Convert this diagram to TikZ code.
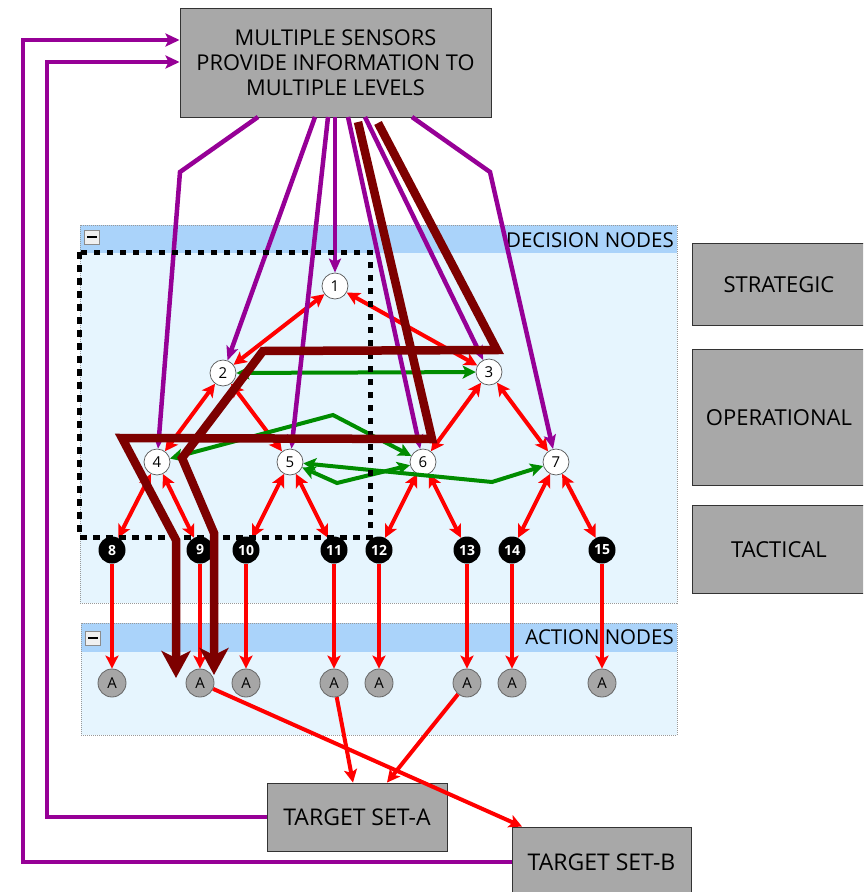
\documentclass[tikz,border=0pt]{standalone}
\usepackage{fontspec}
\setmainfont{Open Sans}
\usetikzlibrary{arrows.meta,calc}

\definecolor{boxgray}{RGB}{168,168,168}
\definecolor{sensorpurple}{RGB}{150,0,150}
\definecolor{pathmaroon}{RGB}{125,0,0}
\definecolor{linkgreen}{RGB}{0,140,0}
\definecolor{hdrblue}{RGB}{170,211,250}
\definecolor{panelblue}{RGB}{230,245,254}
\definecolor{linkred}{RGB}{255,0,0}

\begin{document}
\begin{tikzpicture}[x=1pt,y=-1pt,
  graybox/.style={draw=black!80, line width=0.9pt, fill=boxgray, inner sep=0pt, align=center},
  levelbox/.style={graybox, anchor=north west, minimum width=173pt, font=\fontsize{22}{24}\selectfont},
  targetbox/.style={graybox, font=\fontsize{23}{24}\selectfont},
  dnode/.style={circle, draw=black!65, fill=white, line width=0.7pt, minimum size=26pt, inner sep=0pt, font=\fontsize{15}{15}\selectfont},
  tnode/.style={circle, fill=black, text=white, minimum size=27pt, inner sep=0pt, font=\bfseries\fontsize{14}{14}\selectfont},
  anode/.style={circle, draw=black!60, fill=black!35, line width=0.8pt, minimum size=28pt, inner sep=0pt, font=\fontsize{15}{15}\selectfont},
  redtip/.tip={Stealth[length=13pt,width=13pt,inset=3pt]},
  redone/.style={draw=linkred, line width=4pt, -redtip},
  redtwo/.style={draw=linkred, line width=4pt, redtip-redtip},
  greentip/.tip={Stealth[length=13pt,width=13pt,inset=3pt]},
  greentwo/.style={draw=linkgreen, line width=4pt, line join=miter, greentip-greentip},
  sensorline/.style={draw=sensorpurple, line width=4.5pt, line join=miter, -{Stealth[length=14pt,width=12pt,inset=3pt]}},
  feedline/.style={draw=sensorpurple, line width=4.5pt, line join=miter, -{Stealth[length=14pt,width=13pt,inset=3pt]}},
  pathline/.style={draw=pathmaroon, line width=8.5pt, line join=miter, miter limit=4, -{Stealth[length=27pt,width=29pt,inset=7pt]}},
  panelrim/.style={draw=black!40, line width=0.8pt, dash pattern=on 1pt off 1pt},
  paneltitle/.style={anchor=east, inner sep=0pt, font=\fontsize{20.5}{20.5}\selectfont},
  minusbtn/.style={draw=black!45, fill=black!6, line width=0.7pt, minimum width=15pt, minimum height=14pt, inner sep=0pt},
  groupframe/.style={draw=black, line width=5pt, dash pattern=on 6.5pt off 6.5pt}
]
\clip (0,0) rectangle (863,892);
\fill[white] (0,0) rectangle (863,892);

% ---- decision and action panels
\fill[panelblue] (80,225) rectangle (677,603);
\fill[hdrblue] (80,225) rectangle (677,253);
\draw[panelrim] (80,225) rectangle (677,603);
\node[paneltitle] (dectitle) at (674,240) {DECISION NODES};
\node[minusbtn] (decbtn) at (92,237) {};
\draw[line width=2.2pt] ($(decbtn.center)+(-5,0)$) -- ($(decbtn.center)+(5,0)$);

\fill[panelblue] (81,623) rectangle (677,735);
\fill[hdrblue] (81,623) rectangle (677,652);
\draw[panelrim] (81,623) rectangle (677,735);
\node[paneltitle] (acttitle) at (674,637) {ACTION NODES};
\node[minusbtn] (actbtn) at (93,638) {};
\draw[line width=2.2pt] ($(actbtn.center)+(-5,0)$) -- ($(actbtn.center)+(5,0)$);

% ---- grey boxes
\node[graybox, minimum width=311pt, minimum height=109pt, font=\fontsize{21.8}{25}\selectfont]
  (sensors) at (335.5,62.5) {MULTIPLE SENSORS\\PROVIDE INFORMATION TO\\MULTIPLE LEVELS};
\node[levelbox, minimum height=82pt]  (strategic)   at (692,243) {STRATEGIC};
\node[levelbox, minimum height=136pt] (operational) at (692,349) {OPERATIONAL};
\node[levelbox, minimum height=88pt]  (tactical)    at (692,505) {TACTICAL};
\node[targetbox, minimum width=180pt, minimum height=68pt] (tsa) at (357,817) {TARGET SET-A};
\node[targetbox, minimum width=179pt, minimum height=70pt] (tsb) at (601.5,862) {TARGET SET-B};

% ---- decision nodes
\node[dnode] (n1) at (335,286) {1};
\node[dnode] (n2) at (223,373) {2};
\node[dnode] (n3) at (489,372) {3};
\node[dnode] (n4) at (157,462) {4};
\node[dnode] (n5) at (290,462) {5};
\node[dnode] (n6) at (423,462) {6};
\node[dnode] (n7) at (556,462) {7};

% ---- tactical nodes and action nodes
\foreach \k/\xx in {8/112, 9/200, 10/246, 11/334, 12/379, 13/467, 14/512, 15/602} {
  \node[tnode] (t\k) at (\xx,550) {\k};
  \node[anode] (a\k) at (\xx,683) {A};
}

% ---- red command links
\foreach \u/\v in {n1/n2, n1/n3, n2/n4, n2/n5, n3/n6, n3/n7, n4/t8, n4/t9,
                   n5/t10, n5/t11, n6/t12, n6/t13, n7/t14, n7/t15}
  \draw[redtwo] (\u) -- (\v);
\foreach \k in {8,...,15}
  \draw[redone] (t\k) -- (a\k);
\draw[redone] (a9) -- (tsb);
\draw[redone] (a11) -- ($(tsa.north)+(-4,0)$);
\draw[redone] (a13) -- ($(tsa.north)+(30,0)$);

% ---- green peer links
\coordinate (g46) at (333,415);
\coordinate (g56) at (337,483);
\coordinate (g57) at (492,482);
\draw[greentwo] (n2) -- (n3);
\draw[greentwo] (n4) -- (g46) -- (n6);
\draw[greentwo] (n5) -- (g56) -- (n6);
\draw[greentwo] (n5) -- (g57) -- (n7);

% ---- sensor feeds
\coordinate (s1) at (258,117); \coordinate (b1) at (180,172);
\coordinate (s2) at (315,117);
\coordinate (s3) at (328,117);
\coordinate (s4) at (335,117);
\coordinate (s5) at (348,117);
\coordinate (s6) at (365,117);
\coordinate (s7) at (412,117); \coordinate (b7) at (490,172);
\draw[sensorline] (s1) -- (b1) -- (n4);
\draw[sensorline] (s2) -- (n2);
\draw[sensorline] (s3) -- (n5);
\draw[sensorline] (s4) -- (n1);
\draw[sensorline] (s5) -- (n6);
\draw[sensorline] (s6) -- (n3);
\draw[sensorline] (s7) -- (b7) -- (n7);

% ---- target feedback to the sensors
\coordinate (fa1) at (47,817);  \coordinate (fa2) at (47,62);
\coordinate (fb1) at (23,862);  \coordinate (fb2) at (23,40);
\draw[feedline] (tsa.west) -- (fa1) -- (fa2) -- (sensors.west |- fa2);
\draw[feedline] (tsb.west) -- (fb1) -- (fb2) -- (sensors.west |- fb2);

% ---- dotted group frame
\draw[groupframe] (79,252) rectangle (370,537);

% ---- maroon decision paths
\coordinate (m1a) at (358,122); \coordinate (m1b) at (432,439);
\coordinate (m1c) at (122,438); \coordinate (m1d) at (176,540);
\coordinate (m1e) at (176,678);
\coordinate (m2a) at (378,123); \coordinate (m2b) at (497,350);
\coordinate (m2c) at (263,351); \coordinate (m2d) at (182,458);
\coordinate (m2e) at (214,533); \coordinate (m2f) at (214,675);
\draw[pathline] (m1a) -- (m1b) -- (m1c) -- (m1d) -- (m1e);
\draw[pathline] (m2a) -- (m2b) -- (m2c) -- (m2d) -- (m2e) -- (m2f);
\end{tikzpicture}
\end{document}
